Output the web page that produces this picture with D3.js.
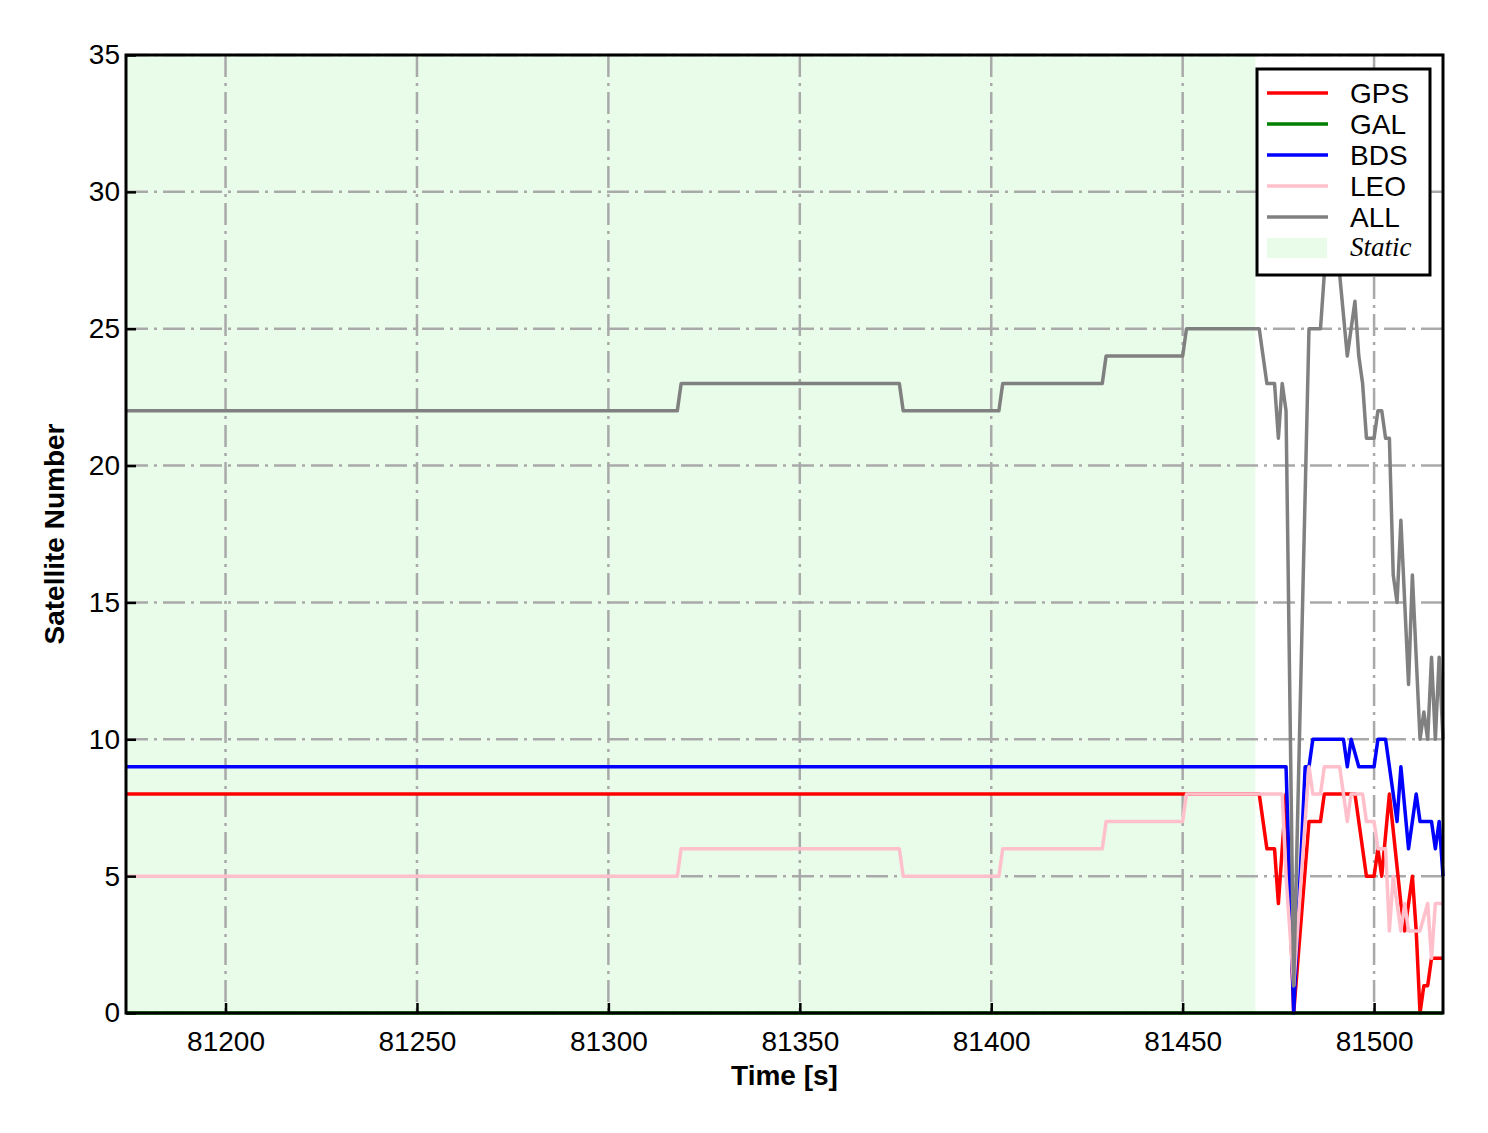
<!DOCTYPE html>
<html>
<head>
<meta charset="utf-8">
<script src="https://cdn.jsdelivr.net/npm/d3@7"></script>
<style>
  body { margin: 0; background: #fff; }
  text { font-family: "Liberation Sans", Arial, sans-serif; }
</style>
</head>
<body>
<div id="grafico"></div>
<script>
// 1) data ------------------------------------------------
const seriesNames = ["GPS", "GAL", "BDS", "LEO", "ALL"];

const gps = [[81174,8],[81470,8],[81472,6],[81474,6],[81475,4],[81477,8],[81479,0],[81483,7],[81486,7],
  [81487,8],[81495,8],[81498,5],[81500,5],[81501,6],[81502,5],[81504,8],[81507,4],[81508,3],[81510,5],
  [81511,3],[81512,0],[81513,1],[81514,1],[81515,2],[81518,2]];

const gal = [[81174,0],[81518,0]];

const bds = [[81174,9],[81477,9],[81479,0],[81482,9],[81483,9],[81484,10],[81492,10],[81493,9],[81494,10],
  [81496,9],[81500,9],[81501,10],[81503,10],[81505,8],[81506,7],[81507,9],[81509,6],[81511,8],[81512,7],
  [81515,7],[81516,6],[81517,7],[81518,5]];

const leo = [[81174,5],[81318,5],[81319,6],[81376,6],[81377,5],[81402,5],[81403,6],[81429,6],[81430,7],
  [81450,7],[81451,8],[81476,8],[81477,5],[81479,1],[81483,9],[81484,8],[81486,8],[81487,9],[81491,9],
  [81493,7],[81494,8],[81497,8],[81498,7],[81500,7],[81501,6],[81503,6],[81504,3],[81505,5],[81507,3],
  [81508,4],[81509,3],[81512,3],[81514,4],[81515,2],[81516,4],[81518,4]];

const all = [[81174,22],[81318,22],[81319,23],[81376,23],[81377,22],[81402,22],[81403,23],[81429,23],
  [81430,24],[81450,24],[81451,25],[81470,25],[81472,23],[81474,23],[81475,21],[81476,23],[81477,22],
  [81479,1],[81483,25],[81486,25],[81487,27],[81491,27],[81493,24],[81495,26],[81496,24],[81497,23],
  [81498,21],[81500,21],[81501,22],[81502,22],[81503,21],[81504,21],[81505,16],[81506,15],[81507,18],
  [81509,12],[81510,16],[81512,10],[81513,11],[81514,10],[81515,13],[81516,10],[81517,13],[81518,10]];

const staticSpan = [81174, 81469];
const xDomain = [81174, 81518];
const yDomain = [0, 35];
const xTicks = [81200, 81250, 81300, 81350, 81400, 81450, 81500];
const yTicks = [0, 5, 10, 15, 20, 25, 30, 35];

// 2) sizes and styles ------------------------------------------
const margem = { superior: 55, inferior: 120, direita: 45, esquerda: 126 };
const largura = 1488 - margem.esquerda - margem.direita;
const altura = 1133 - margem.superior - margem.inferior;
const cores = { GPS: "#ff0000", GAL: "#008000", BDS: "#0000ff", LEO: "#ffc0cb", ALL: "#808080" };
const staticFill = "#e9fce9";
const gridColor = "#a9a9a9";

const dados = [gps, gal, bds, leo, all];

// 3) svg -----------------------------------------
const svg = d3.select("#grafico")
  .append("svg")
    .attr("width", 1488)
    .attr("height", 1133)
  .append("g")
    .attr("transform", `translate(${margem.esquerda},${margem.superior})`);

// 4) scales -----------------------------------------
const x = d3.scaleLinear().domain(xDomain).range([0, largura]);
const y = d3.scaleLinear().domain(yDomain).range([altura, 0]);

// 5) static period background -----------------------------------------
svg.append("rect")
  .attr("x", x(staticSpan[0]))
  .attr("y", 0)
  .attr("width", x(staticSpan[1]) - x(staticSpan[0]))
  .attr("height", altura)
  .attr("fill", staticFill);

// 6) grid (dash-dot) -----------------------------------------
const grid = svg.append("g").attr("class", "grid")
  .attr("stroke", gridColor).attr("stroke-width", 2.5).attr("stroke-dasharray", "22,6,3,6");
grid.selectAll(".gx").data(xTicks).join("line")
  .attr("x1", d => x(d)).attr("x2", d => x(d)).attr("y1", 0).attr("y2", altura);
grid.selectAll(".gy").data(yTicks).join("line")
  .attr("y1", d => y(d)).attr("y2", d => y(d)).attr("x1", 0).attr("x2", largura);

// 7) lines -----------------------------------------
const linha = d3.line().x(d => x(d[0])).y(d => y(d[1]));
svg.append("g").attr("class", "linhas")
  .selectAll("path")
  .data(dados)
  .join("path")
    .attr("d", linha)
    .attr("fill", "none")
    .attr("stroke", (d, i) => cores[seriesNames[i]])
    .attr("stroke-width", 3.5)
    .attr("stroke-linejoin", "round");

// 8) axes (ticks pointing in) -----------------------------------------
const eixoX = svg.append("g")
  .attr("transform", `translate(0,${altura})`)
  .call(d3.axisBottom(x).tickValues(xTicks).tickFormat(d3.format("d")).tickSizeInner(-10).tickSizeOuter(0).tickPadding(18));
const eixoY = svg.append("g")
  .call(d3.axisLeft(y).tickValues(yTicks).tickSizeInner(-10).tickSizeOuter(0).tickPadding(6));
[eixoX, eixoY].forEach(e => {
  e.select(".domain").remove();
  e.selectAll("line").attr("stroke", "#000").attr("stroke-width", 2.5);
  e.selectAll("text").attr("font-size", "28px").attr("fill", "#000")
    .style("font-family", "'Liberation Sans', Arial, sans-serif");
});

// frame
svg.append("rect")
  .attr("width", largura).attr("height", altura)
  .attr("fill", "none").attr("stroke", "#000").attr("stroke-width", 3);

// 9) axis titles -----------------------------------------
svg.append("text")
  .attr("x", largura / 2).attr("y", altura + 72)
  .attr("text-anchor", "middle")
  .attr("font-size", "28px").attr("font-weight", "bold")
  .text("Time [s]");
svg.append("text")
  .attr("transform", `translate(${-62},${altura / 2})rotate(-90)`)
  .attr("text-anchor", "middle")
  .attr("font-size", "28px").attr("font-weight", "bold")
  .text("Satellite Number");

// 10) legend -----------------------------------------
const legenda = svg.append("g")
  .attr("transform", `translate(${1257 - margem.esquerda},${69 - margem.superior})`);
legenda.append("rect")
  .attr("width", 173).attr("height", 206)
  .attr("fill", "#fff").attr("stroke", "#000").attr("stroke-width", 3);
seriesNames.forEach((nome, i) => {
  const ly = 24 + i * 31;
  legenda.append("line")
    .attr("x1", 10).attr("x2", 71).attr("y1", ly).attr("y2", ly)
    .attr("stroke", cores[nome]).attr("stroke-width", 3.5);
  legenda.append("text")
    .attr("x", 93).attr("y", ly + 10)
    .attr("font-size", "28px")
    .text(nome);
});
legenda.append("rect")
  .attr("x", 10).attr("y", 169).attr("width", 60).attr("height", 20)
  .attr("fill", staticFill);
legenda.append("text")
  .attr("x", 93).attr("y", 187)
  .attr("font-size", "27px")
  .style("font-family", "'Liberation Serif', 'Times New Roman', serif")
  .style("font-style", "italic")
  .text("Static");
</script>
</body>
</html>
